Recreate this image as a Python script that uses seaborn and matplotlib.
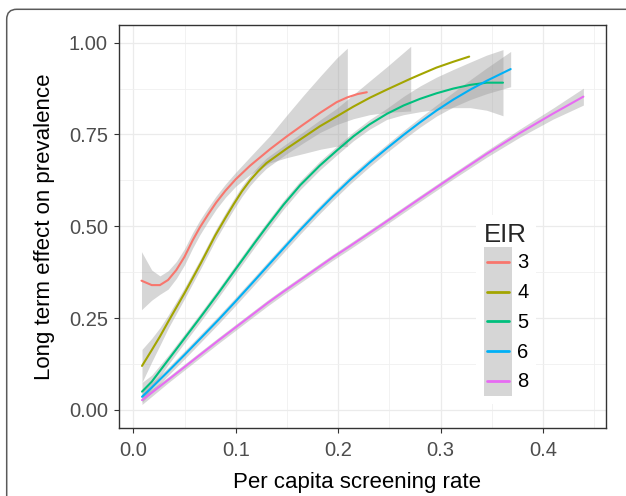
import numpy as np
import pandas as pd
import matplotlib
matplotlib.use("Agg")
import matplotlib.pyplot as plt
import seaborn as sns
from matplotlib.patches import FancyBboxPatch, Rectangle
from matplotlib.lines import Line2D
from matplotlib.legend_handler import HandlerBase
from matplotlib.transforms import IdentityTransform
from matplotlib.ticker import FixedLocator, StrMethodFormatter

# ---------------- data ----------------
eir_levels = ["3", "4", "5", "6", "8"]
eir_colors = ["#F8766D", "#A3A500", "#00BF7D", "#00B0F6", "#E76BF3"]

# EIR 3  (confidence band covers the first len(band_hw_3) points)
rate_3 = [0.008, 0.018, 0.026, 0.034, 0.042, 0.050, 0.058, 0.065, 0.073, 0.081,
          0.090, 0.100, 0.114, 0.1335, 0.150, 0.166, 0.183, 0.1986, 0.209, 0.219,
          0.228]
effect_3 = [0.352, 0.340, 0.340, 0.354, 0.381, 0.417, 0.462, 0.497, 0.532, 0.565,
            0.597, 0.628, 0.665, 0.710, 0.745, 0.777, 0.810, 0.838, 0.851, 0.860,
            0.865]
band_hw_3 = [0.079, 0.041, 0.025, 0.025, 0.023, 0.022, 0.021, 0.020, 0.019, 0.018,
             0.018, 0.019, 0.024, 0.037, 0.058, 0.079, 0.100, 0.120, 0.134]

# EIR 4
rate_4 = [0.0085, 0.018, 0.026, 0.034, 0.050, 0.066, 0.080, 0.090, 0.098, 0.106,
          0.114, 0.122, 0.130, 0.140, 0.150, 0.166, 0.182, 0.1986, 0.215, 0.231,
          0.2475, 0.2709, 0.280, 0.296, 0.3125, 0.328]
effect_4 = [0.120, 0.163, 0.200, 0.240, 0.318, 0.400, 0.475, 0.523, 0.560, 0.595,
            0.625, 0.650, 0.672, 0.692, 0.712, 0.742, 0.772, 0.799, 0.826, 0.850,
            0.872, 0.902, 0.913, 0.932, 0.948, 0.962]
band_hw_4 = [0.045, 0.032, 0.024, 0.018, 0.015, 0.014, 0.014, 0.014, 0.014, 0.014,
             0.014, 0.014, 0.014, 0.014, 0.014, 0.015, 0.017, 0.022, 0.033, 0.046,
             0.062, 0.088]

# EIR 5
rate_5 = [0.0085, 0.018, 0.034, 0.050, 0.066, 0.083, 0.099, 0.1185, 0.130, 0.1465,
          0.163, 0.182, 0.1986, 0.215, 0.2305, 0.2475, 0.264, 0.280, 0.296, 0.3125,
          0.329, 0.345, 0.361]
effect_5 = [0.050, 0.077, 0.136, 0.195, 0.254, 0.318, 0.380, 0.455, 0.498, 0.558,
            0.612, 0.665, 0.706, 0.745, 0.777, 0.806, 0.829, 0.847, 0.862, 0.875,
            0.885, 0.891, 0.891]
band_hw_5 = [0.025, 0.018, 0.013, 0.012, 0.012, 0.012, 0.012, 0.012, 0.012, 0.012,
             0.012, 0.012, 0.012, 0.012, 0.013, 0.015, 0.025, 0.035, 0.044, 0.052,
             0.062, 0.075, 0.090]

# EIR 6
rate_6 = [0.0085, 0.018, 0.034, 0.050, 0.066, 0.083, 0.099, 0.115, 0.1315, 0.149,
          0.163, 0.179, 0.195, 0.2115, 0.231, 0.2475, 0.264, 0.280, 0.296, 0.3125,
          0.329, 0.345, 0.3685]
effect_6 = [0.036, 0.061, 0.105, 0.150, 0.196, 0.245, 0.293, 0.342, 0.393, 0.447,
            0.490, 0.537, 0.582, 0.626, 0.674, 0.712, 0.749, 0.783, 0.815, 0.845,
            0.872, 0.896, 0.928]
band_hw_6 = [0.015, 0.013, 0.011, 0.011, 0.011, 0.011, 0.011, 0.011, 0.011, 0.011,
             0.011, 0.011, 0.011, 0.011, 0.011, 0.011, 0.012, 0.013, 0.015, 0.020,
             0.027, 0.035, 0.048]

# EIR 8
rate_8 = [0.0085, 0.018, 0.034, 0.050, 0.066, 0.083, 0.099, 0.115, 0.1315, 0.1465,
          0.163, 0.179, 0.195, 0.2115, 0.244, 0.277, 0.3125, 0.345, 0.3776, 0.410,
          0.4395]
effect_8 = [0.027, 0.047, 0.082, 0.117, 0.152, 0.189, 0.223, 0.257, 0.292, 0.322,
            0.354, 0.385, 0.416, 0.446, 0.507, 0.570, 0.637, 0.697, 0.754, 0.807,
            0.853]
band_hw_8 = [0.012, 0.010, 0.008, 0.008, 0.008, 0.008, 0.008, 0.008, 0.008, 0.008,
             0.008, 0.008, 0.008, 0.008, 0.008, 0.008, 0.008, 0.009, 0.011, 0.015,
             0.023]

x_ticks = [0.0, 0.1, 0.2, 0.3, 0.4]
y_ticks = [0.00, 0.25, 0.50, 0.75, 1.00]

series = {"3": (rate_3, effect_3, band_hw_3), "4": (rate_4, effect_4, band_hw_4),
          "5": (rate_5, effect_5, band_hw_5), "6": (rate_6, effect_6, band_hw_6),
          "8": (rate_8, effect_8, band_hw_8)}

df = pd.concat([pd.DataFrame({"rate": series[k][0], "effect": series[k][1], "EIR": k})
                for k in eir_levels], ignore_index=True)

# ---------------- style ----------------
sns.set_theme(style="white")
plt.rcParams["font.family"] = ["Liberation Sans", "DejaVu Sans"]

W, H = 626, 496
fig = plt.figure(figsize=(W / 100, H / 100), dpi=100)
fig.patch.set_facecolor("white")

# journal figure frame (rounded box)
frame = FancyBboxPatch((6.7, -40), 640, H - 9.3 + 40,
                       boxstyle="round,pad=0,rounding_size=10",
                       fc="none", ec="#5a5a5a", lw=1.1,
                       transform=IdentityTransform(), clip_on=False)
fig.add_artist(frame)

L, R, T, B = 118.5, 606, 25, 428
ax = fig.add_axes([L / W, 1 - B / H, (R - L) / W, (B - T) / H])
ax.set_facecolor("white")

band_fill = "#999999"
for k in eir_levels:
    x, y, hw = series[k]
    n = len(hw)
    xb = np.asarray(x[:n])
    yb = np.asarray(y[:n])
    hwa = np.asarray(hw)
    ax.fill_between(xb, yb - hwa, yb + hwa, color=band_fill, alpha=0.4, lw=0, zorder=2)

palette = dict(zip(eir_levels, eir_colors))
sns.lineplot(data=df, x="rate", y="effect", hue="EIR", hue_order=eir_levels,
             palette=palette, sort=False, estimator=None, lw=1.5,
             legend=False, ax=ax, zorder=3)

ax.set_xlim(-0.01445, 0.4616)
ax.set_ylim(-0.049, 1.048)
ax.xaxis.set_major_locator(FixedLocator(x_ticks))
ax.yaxis.set_major_locator(FixedLocator(y_ticks))
ax.xaxis.set_minor_locator(FixedLocator([0.05, 0.15, 0.25, 0.35, 0.45]))
ax.yaxis.set_minor_locator(FixedLocator([0.125, 0.375, 0.625, 0.875]))
ax.xaxis.set_major_formatter(StrMethodFormatter("{x:.1f}"))
ax.yaxis.set_major_formatter(StrMethodFormatter("{x:.2f}"))

ax.set_axisbelow(True)
ax.grid(which="major", color="#ebebeb", lw=0.9)
ax.grid(which="minor", color="#f0f0f0", lw=0.6)
for s in ax.spines.values():
    s.set_color("#333333")
    s.set_linewidth(1.0)

ax.tick_params(which="major", direction="out", length=3.6, width=0.8,
               color="#333333", labelcolor="#4d4d4d", labelsize=14.5)
ax.tick_params(axis="x", which="major", pad=5.5, bottom=True)
ax.tick_params(axis="y", which="major", pad=4, left=True)
ax.tick_params(which="minor", length=0)

ax.set_xlabel("Per capita screening rate", fontsize=16, color="black")
ax.set_ylabel("Long term effect on prevalence", fontsize=16, color="black")
ax.xaxis.set_label_coords(0.49, -0.110)
ax.yaxis.set_label_coords(-0.130, 0.5)


# legend keys with grey smooth-band background
class KeyHandler(HandlerBase):
    def create_artists(self, legend, orig_handle, xdescent, ydescent, width,
                       height, fontsize, trans):
        bg = Rectangle((-xdescent, -ydescent), width, height, facecolor=band_fill,
                       alpha=0.4, edgecolor="none", transform=trans)
        yc = -ydescent + height / 2
        ln = Line2D([-xdescent + 0.1 * width, -xdescent + 0.9 * width], [yc, yc],
                    color=orig_handle.get_color(), lw=orig_handle.get_linewidth(),
                    transform=trans)
        return [bg, ln]


handles = [Line2D([], [], color=c, lw=2.0) for c in eir_colors]
leg = ax.legend(handles, eir_levels, title="EIR", loc="upper left",
                bbox_to_anchor=(476 / W, 1 - 215 / H), bbox_transform=fig.transFigure,
                fontsize=14.5, title_fontsize=18.5, frameon=True, fancybox=False,
                facecolor="white", edgecolor="none", framealpha=1,
                handlelength=1.39, handleheight=1.894, labelspacing=0.0,
                handletextpad=0.25, borderpad=0.4, borderaxespad=0,
                alignment="left", handler_map={Line2D: KeyHandler()})
for t in leg.get_texts():
    t.set_color("black")

fig.savefig("out.png", dpi=100, facecolor="white")
